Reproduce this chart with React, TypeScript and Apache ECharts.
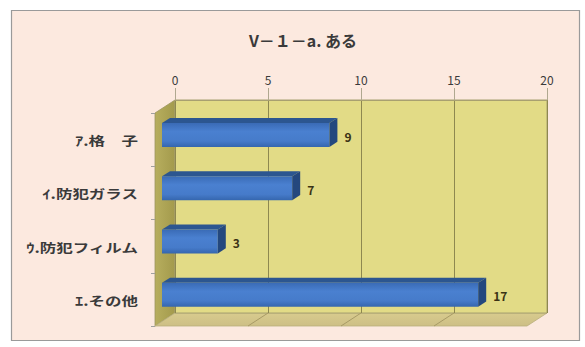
import React, { useEffect, useRef } from "react";
import * as echarts from "echarts";

// Chart content
const titleText = "V－１－a. ある";
const categories = ["ｱ.格　子", "ｲ.防犯ガラス", "ｳ.防犯フィルム", "ｴ.その他"];
const values = [9, 7, 3, 17];
const floorTicks = [5, 10, 15];
const axisMin = 0;
const axisMax = 20;
const axisStep = 5;

// Box geometry: back wall and an oblique depth vector towards the viewer
const WALL_L = 175;
const WALL_T = 100;
const WALL_W = 372;
const WALL_H = 213;
const DEPTH_X = -20;
const DEPTH_Y = 13;
// bars sit between these fractions of the depth
const BAR_BACK = 0.25;
const BAR_FRONT = 0.65;

const FONT = '"Noto Sans CJK JP", "Noto Sans", sans-serif';

export default function App() {
  const ref = useRef<HTMLDivElement>(null);

  useEffect(() => {
    if (!ref.current) return;
    const chart = echarts.init(ref.current, null, { renderer: "svg" });

    const barDx = (BAR_BACK - BAR_FRONT) * DEPTH_X; // positive: towards back-right
    const barDy = (BAR_BACK - BAR_FRONT) * DEPTH_Y; // negative: upward

    const wallBottom = WALL_T + WALL_H;
    const wallRight = WALL_L + WALL_W;

    const option: any = {
      animation: false,
      backgroundColor: "#ffffff",
      title: {
        text: titleText,
        left: 298,
        top: 27,
        textAlign: "center",
        textStyle: {
          fontFamily: FONT,
          fontSize: 16,
          fontWeight: "bold",
          color: "#3a3a3a",
        },
      },
      graphic: [
        {
          type: "rect",
          z: -10,
          shape: { x: 11.5, y: 10.5, width: 568, height: 330 },
          style: { fill: "#FCE9DF", stroke: "#9a9a9a", lineWidth: 1.2 },
        },
        // left side wall
        {
          type: "polygon",
          z: -5,
          shape: {
            points: [
              [WALL_L, WALL_T],
              [WALL_L, wallBottom],
              [WALL_L + DEPTH_X, wallBottom + DEPTH_Y],
              [WALL_L + DEPTH_X, WALL_T + DEPTH_Y],
            ],
          },
          style: {
            fill: new echarts.graphic.LinearGradient(0, 0, 1, 0, [
              { offset: 0, color: "#B7AE5E" },
              { offset: 1, color: "#A39A4C" },
            ]),
            stroke: "#9C9560",
            lineWidth: 0.8,
          },
        },
        // floor
        {
          type: "polygon",
          z: -5,
          shape: {
            points: [
              [WALL_L, wallBottom],
              [wallRight, wallBottom],
              [wallRight + DEPTH_X, wallBottom + DEPTH_Y],
              [WALL_L + DEPTH_X, wallBottom + DEPTH_Y],
            ],
          },
          style: {
            fill: new echarts.graphic.LinearGradient(0, 0, 0, 1, [
              { offset: 0, color: "#D8CB8E" },
              { offset: 1, color: "#CDBF85" },
            ]),
            stroke: "#B9AE7C",
            lineWidth: 0.8,
          },
        },
      ],
      grid: [
        // back wall
        {
          left: WALL_L,
          top: WALL_T,
          width: WALL_W,
          height: WALL_H,
          show: true,
          backgroundColor: "#E2DB86",
          borderColor: "#A8A070",
          borderWidth: 1,
          z: 0,
        },
        // depth plane of the bars
        {
          left: WALL_L + BAR_FRONT * DEPTH_X,
          top: WALL_T + BAR_FRONT * DEPTH_Y,
          width: WALL_W,
          height: WALL_H,
        },
        // front plane (category labels)
        {
          left: WALL_L + DEPTH_X,
          top: WALL_T + DEPTH_Y,
          width: WALL_W,
          height: WALL_H,
        },
      ],
      xAxis: [
        {
          gridIndex: 0,
          type: "value",
          position: "top",
          min: axisMin,
          max: axisMax,
          interval: axisStep,
          axisLine: { show: true, lineStyle: { color: "#A8A070" } },
          axisTick: { show: true, length: 12, lineStyle: { color: "#b0a890" } },
          axisLabel: {
            margin: 15,
            fontFamily: FONT,
            fontSize: 12,
            color: "#3a3a3a",
          },
          splitLine: { show: true, lineStyle: { color: "#8E8850", width: 1 } },
        },
        { gridIndex: 1, type: "value", min: axisMin, max: axisMax, show: false },
        { gridIndex: 2, type: "value", min: axisMin, max: axisMax, show: false },
      ],
      yAxis: [
        {
          gridIndex: 0,
          type: "category",
          inverse: true,
          data: categories,
          show: false,
        },
        {
          gridIndex: 1,
          type: "category",
          inverse: true,
          data: categories,
          show: false,
        },
        {
          gridIndex: 2,
          type: "category",
          inverse: true,
          data: categories,
          axisLine: { show: false },
          axisTick: { show: true, length: 4, lineStyle: { color: "#a0a0a0" } },
          axisLabel: { show: false },
          splitLine: { show: false },
        },
      ],
      series: [
        // floor continuation of the vertical gridlines
        {
          type: "custom",
          xAxisIndex: 0,
          yAxisIndex: 0,
          z: 1,
          data: floorTicks.map((t) => [t]),
          renderItem: (_p: any, api: any) => {
            const p = api.coord([api.value(0), 0]);
            const x = p[0];
            return {
              type: "line",
              shape: {
                x1: x,
                y1: wallBottom,
                x2: x + DEPTH_X,
                y2: wallBottom + DEPTH_Y,
              },
              style: { stroke: "#A89B66", lineWidth: 1 },
            };
          },
        },
        // category names on the front plane
        {
          type: "custom",
          xAxisIndex: 2,
          yAxisIndex: 2,
          z: 3,
          data: categories.map((c, i) => [0, i, c]),
          renderItem: (_p: any, api: any) => {
            const i = api.value(1);
            const p = api.coord([0, i]);
            return {
              type: "text",
              x: p[0] - 17,
              y: p[1] + 1,
              scaleX: 1.32,
              style: {
                text: categories[i],
                align: "right",
                verticalAlign: "middle",
                font: `bold 12.5px ${FONT}`,
                fill: "#3a3a3a",
              },
            };
          },
        },
        // 3D bars
        {
          type: "custom",
          xAxisIndex: 1,
          yAxisIndex: 1,
          z: 4,
          data: values.map((v, i) => [v, i]),
          renderItem: (_p: any, api: any) => {
            const v = api.value(0);
            const i = api.value(1);
            const start = api.coord([0, i]);
            const end = api.coord([v, i]);
            const band = api.size([0, 1])[1];
            const h = band * 0.45;
            const x0 = start[0];
            const x1 = end[0];
            const top = start[1] - h / 2;
            const bottom = start[1] + h / 2;
            return {
              type: "group",
              children: [
                {
                  type: "polygon",
                  shape: {
                    points: [
                      [x0, top],
                      [x1, top],
                      [x1 + barDx, top + barDy],
                      [x0 + barDx, top + barDy],
                    ],
                  },
                  style: { fill: "#2C5690" },
                },
                {
                  type: "rect",
                  shape: { x: x0, y: top, width: x1 - x0, height: h },
                  style: {
                    fill: new echarts.graphic.LinearGradient(0, 0, 0, 1, [
                      { offset: 0, color: "#3A6BB6" },
                      { offset: 0.35, color: "#4A80D0" },
                      { offset: 0.75, color: "#467BCA" },
                      { offset: 1, color: "#3566AE" },
                    ]),
                  },
                },
                {
                  type: "polygon",
                  shape: {
                    points: [
                      [x1, top],
                      [x1 + barDx, top + barDy],
                      [x1 + barDx, bottom + barDy],
                      [x1, bottom],
                    ],
                  },
                  style: { fill: "#24487E" },
                },
                {
                  type: "text",
                  style: {
                    text: String(v),
                    x: x1 + barDx + 7,
                    y: start[1] + 1,
                    verticalAlign: "middle",
                    font: `bold 12px ${FONT}`,
                    fill: "#3a3215",
                  },
                },
              ],
            };
          },
        },
      ],
    };

    chart.setOption(option);
    return () => chart.dispose();
  }, []);

  return (
    <div
      ref={ref}
      style={{
        position: "fixed",
        left: 0,
        top: 0,
        width: 585,
        height: 347,
      }}
    />
  );
}
